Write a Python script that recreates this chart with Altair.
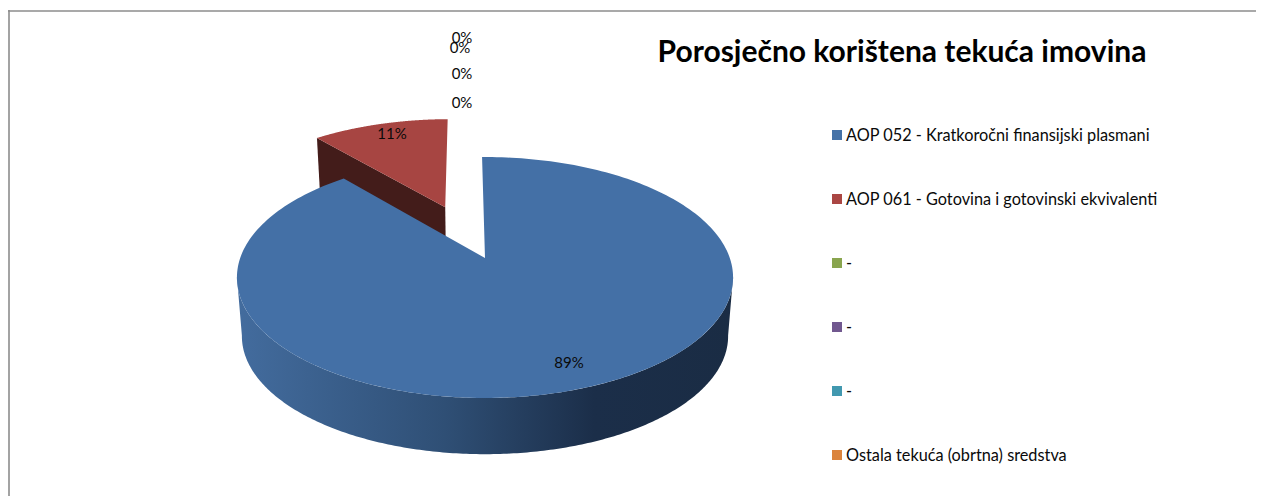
import numpy as np
import pandas as pd
import altair as alt

# --- chart values -----------------------------------------------------------
title_text = "Porosječno korištena tekuća imovina"
categories = [
    "AOP 052 - Kratkoročni finansijski plasmani",
    "AOP 061 - Gotovina i gotovinski ekvivalenti",
    "-",
    "-",
    "-",
    "Ostala tekuća (obrtna) sredstva",
]
shares = [89, 11, 0, 0, 0, 0]
colors = ["#4572A7", "#AA4643", "#89A54E", "#71588F", "#4198AF", "#DB843D"]
pct_labels = ["89%", "11%", "0%", "0%", "0%", "0%"]
label_x = [569, 392, 462, 462, 462, 460]
label_y = [362, 133, 102, 73, 37, 47]
legend_y = [135, 199, 263, 327, 391, 455]

# --- projection of the tilted pie -------------------------------------------
W, H = 1248, 488
AX, AY = 485.0, 258.0      # apex of the first slice
RX, RY, K = 244.8, 117.3, 0.162
DROP, SHRINK = 59.0, 0.98
EXPLODE = 0.4966
START = -0.8


def project(u, v, bottom=False):
    d = 1 + K * v
    x = AX + RX * u / d
    y = AY - RY * v / d
    if bottom:
        x = AX + SHRINK * (x - AX)
        y = AY + DROP + SHRINK * (y - AY)
    return x, y


def arc(a0, a1, off=(0, 0), bottom=False):
    t = np.radians(np.linspace(a0, a1, 240))
    return project(off[0] + np.sin(t), off[1] + np.cos(t), bottom)


def poly(xs, ys):
    return pd.DataFrame({"px": xs, "py": ys, "i": np.arange(len(xs))})


def sector(a0, a1, off=(0, 0)):
    ax, ay = project(off[0], off[1])
    x, y = arc(a0, a1, off)
    return poly(np.r_[ax, x], np.r_[ay, y])


blue_a0 = START
blue_a1 = START + 3.6 * shares[0]
red_a0 = blue_a1
red_a1 = red_a0 + 3.6 * shares[1]
bis = np.radians((red_a0 + red_a1) / 2)
red_off = (EXPLODE * np.sin(bis), EXPLODE * np.cos(bis))

blue_top = sector(blue_a0, blue_a1)
red_top = sector(red_a0, red_a1, red_off)

# front wall of the large slice
tx, ty = arc(99, 261)
bx, by = arc(99, 261, bottom=True)
blue_wall = poly(np.r_[tx, bx[::-1]], np.r_[ty, by[::-1]])

# cut face of the exploded slice (seen from the front)
p0 = project(red_off[0] + np.sin(np.radians(red_a0)), red_off[1] + np.cos(np.radians(red_a0)))
p1 = project(red_off[0], red_off[1])
p2 = project(red_off[0], red_off[1], True)
p3 = project(red_off[0] + np.sin(np.radians(red_a0)), red_off[1] + np.cos(np.radians(red_a0)), True)
red_wall = poly([p0[0], p1[0], p2[0], p3[0]], [p0[1], p1[1], p2[1], p3[1]])

x_scale = alt.Scale(domain=[8, 8 + W], range=[0, W])
y_scale = alt.Scale(domain=[8 + H, 8], range=[H, 0])
X = alt.X("px:Q", scale=x_scale, axis=None)
Y = alt.Y("py:Q", scale=y_scale, axis=None)


def shape(df, fill):
    return alt.Chart(df).mark_line(
        interpolate="linear-closed", fill=fill, stroke=None, clip=False
    ).encode(x=X, y=Y, order="i:Q")


wall_gradient = alt.Gradient(
    gradient="linear", x1=0, x2=1, y1=0, y2=0,
    stops=[
        alt.GradientStop(color="#436C9E", offset=0),
        alt.GradientStop(color="#2F4F75", offset=0.42),
        alt.GradientStop(color="#1B2E49", offset=0.72),
        alt.GradientStop(color="#1A2C44", offset=1),
    ],
)

layers = [
    shape(red_wall, "#431C1A"),
    shape(red_top, "#A74542"),
    shape(blue_wall, wall_gradient),
    shape(blue_top, "#4470A6"),
]

FONT = "Lato"
labels = pd.DataFrame({"px": label_x, "py": label_y, "t": pct_labels})
layers.append(
    alt.Chart(labels).mark_text(font=FONT, fontSize=15, color="#0A0A0A", baseline="middle", align="center", dy=1)
    .encode(x=X, y=Y, text="t:N")
)

legend = pd.DataFrame({
    "py": legend_y,
    "sx": [837] * 6,
    "tx": [846] * 6,
    "t": categories,
    "c": colors,
})
layers.append(
    alt.Chart(legend).mark_square(size=100, opacity=1, strokeWidth=0)
    .encode(x=alt.X("sx:Q", scale=x_scale, axis=None), y=Y, fill=alt.Fill("c:N", scale=None))
)
layers.append(
    alt.Chart(legend).mark_text(font=FONT, fontSize=16.3, color="#0A0A0A", baseline="middle", align="left", dy=1)
    .encode(x=alt.X("tx:Q", scale=x_scale, axis=None), y=Y, text="t:N")
)

title_df = pd.DataFrame({"px": [902], "py": [52], "t": [title_text]})
layers.append(
    alt.Chart(title_df).mark_text(font=FONT, fontSize=30, fontWeight="bold", color="#000000", baseline="middle", align="center", dy=1)
    .encode(x=X, y=Y, text="t:N")
)

frame_h = pd.DataFrame({"a": [8], "b": [8 + W], "py": [11]})
frame_v = pd.DataFrame({"px": [9], "a": [10], "b": [8 + H]})
layers.append(
    alt.Chart(frame_h).mark_rule(color="#8C8C8C", strokeWidth=1.6)
    .encode(x=alt.X("a:Q", scale=x_scale, axis=None), x2="b:Q", y=Y)
)
layers.append(
    alt.Chart(frame_v).mark_rule(color="#8C8C8C", strokeWidth=1.6)
    .encode(x=X, y=alt.Y("a:Q", scale=y_scale, axis=None), y2="b:Q")
)

chart = (
    alt.layer(*layers)
    .properties(width=W, height=H, padding=0, autosize=alt.AutoSizeParams(type="none"), background="white")
    .configure_view(stroke=None)
)

chart.save("out.html", embed_options={"renderer": "svg", "actions": False})
